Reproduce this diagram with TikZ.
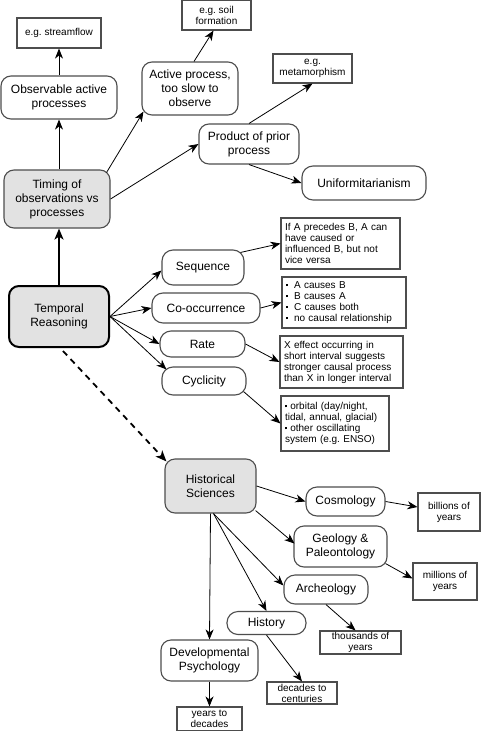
\documentclass[tikz,border=0pt]{standalone}
\usepackage{fontspec}
\setmainfont{Liberation Sans}
\usetikzlibrary{arrows.meta,calc}
\definecolor{bc}{HTML}{4D4D4D}
\definecolor{hubfill}{HTML}{E2E2E2}
\newcommand{\sqb}{\raisebox{2.2pt}{\rule{2pt}{2pt}}}
\frenchspacing
\begin{document}
\begin{tikzpicture}[x=1pt,y=-1pt,
  box/.style={draw=bc, line width=1.1pt, rounded corners=10pt, align=center, inner sep=0pt, font=\fontsize{12}{14}\selectfont, fill=white},
  pill/.style={box, rounded corners=11pt},
  hub/.style={box, fill=hubfill},
  note/.style={draw=bc, line width=1.1pt, align=center, inner sep=0pt, font=\fontsize{10}{11}\selectfont, fill=white},
  lnote/.style={note, align=left, inner xsep=4pt, inner ysep=0pt},
  conn/.style={-{Stealth[length=10pt,width=8pt,inset=3pt]}, line width=0.8pt},
]
\useasboundingbox (0,0) rectangle (480,731);
\fill[white] (0,0) rectangle (480,731);

% upper part
\node[note, minimum width=84pt, minimum height=30pt] (stream) at (59,33) {e.g. streamflow};
\node[box, minimum width=116pt, minimum height=43pt] (observable) at (59,97.5) {Observable active\\processes};
\node[note, minimum width=69pt, minimum height=30pt] (soil) at (216.5,15) {e.g. soil\\formation};
\node[box, minimum width=96pt, minimum height=53pt] (active) at (190,88.5) {Active process,\\too slow to\\observe};
\node[box, minimum width=100pt, minimum height=40pt] (product) at (249,144) {Product of prior\\process};
\node[note, minimum width=79pt, minimum height=29pt] (metamorph) at (312.5,68.5) {e.g.\\metamorphism};
\node[pill, minimum width=124pt, minimum height=34pt] (uniform) at (364,183) {Uniformitarianism};
\node[hub, minimum width=106pt, minimum height=58pt] (timing) at (57,199) {Timing of\\observations vs\\processes};
\node[hub, draw=black, line width=2pt, minimum width=100pt, minimum height=61pt] (temporal) at (59,316.5) {Temporal\\Reasoning};

% middle part
\node[pill, minimum width=82pt, minimum height=35pt] (sequence) at (203,267.5) {Sequence};
\node[pill, minimum width=108pt, minimum height=30pt] (cooc) at (206,308) {Co-occurrence};
\node[pill, minimum width=85pt, minimum height=26pt] (rate) at (202.5,344) {Rate};
\node[pill, minimum width=84pt, minimum height=28pt] (cyclicity) at (204,381) {Cyclicity};

\node[lnote, text width=111pt, minimum height=51pt] (seqnote) at (340.5,243.5) {If A precedes B, A can\\have caused or\\influenced B, but not\\vice versa};
\node[lnote, text width=116pt, minimum height=51pt] (coocnote) at (344,302.5) {\sqb\hspace{6pt}A causes B\\\sqb\hspace{6pt}B causes A\\\sqb\hspace{6pt}C causes both\\\sqb\hspace{6pt}no causal relationship};
\node[lnote, text width=115pt, minimum height=52pt] (ratenote) at (341.5,362) {X effect occurring in\\short interval suggests\\stronger causal process\\than X in longer interval};
\node[lnote, text width=100pt, minimum height=55pt] (cyclnote) at (335,423.5) {\sqb\ orbital (day/night,\\tidal, annual, glacial)\\\sqb\ other oscillating\\system (e.g. ENSO)};

% lower part
\node[hub, minimum width=91pt, minimum height=54pt] (historical) at (210.5,486) {Historical\\Sciences};
\node[pill, minimum width=79pt, minimum height=29pt] (cosmology) at (345.5,501.5) {Cosmology};
\node[note, minimum width=62pt, minimum height=38pt] (billions) at (449,512) {billions of\\years};
\node[box, minimum width=93pt, minimum height=41pt] (geology) at (340.5,546.5) {Geology \&\\Paleontology};
\node[note, minimum width=64pt, minimum height=37pt] (millions) at (445,581.5) {millions of\\years};
\node[pill, minimum width=84pt, minimum height=29pt] (archeology) at (326,589.5) {Archeology};
\node[note, minimum width=81pt, minimum height=23pt] (thousands) at (360.5,642.5) {thousands of\\years};
\node[pill, minimum width=79pt, minimum height=23pt] (history) at (266.5,623) {History};
\node[note, minimum width=70pt, minimum height=22pt] (decades) at (302,693) {decades to\\centuries};
\node[box, minimum width=97pt, minimum height=41pt] (devpsych) at (209.5,660.5) {Developmental\\Psychology};
\node[note, minimum width=65pt, minimum height=24pt] (years) at (209.5,719) {years to\\decades};

% connectors: upper
\draw[conn] (observable.north) -- (stream.south);
\draw[conn] (timing.north -| observable) -- (observable.south);
\draw[conn] ($(timing.north east)+(-4,3)$) -- ($(active.south west)+(2,-4)$);
\draw[conn] (timing.east) -- (product.west);
\draw[conn] ($(active.north)+(4,0)$) -- ($(soil.south)+(-3,0)$);
\draw[conn] (product.north) -- (metamorph.south);
\draw[conn] (product.south) -- (uniform.west);
\draw[-{Stealth[length=11pt,width=9pt,inset=3pt]}, line width=2.2pt] (temporal.north) -- (temporal.north |- timing.south);

% connectors: middle
\draw[conn] (temporal.east) -- ($(sequence.west)+(0,3)$);
\draw[conn] (temporal.east) -- (cooc.west);
\draw[conn] (temporal.east) -- (rate.west);
\draw[conn] (temporal.east) -- ($(cyclicity.north west)+(5,3)$);
\draw[conn] ($(sequence.north east)+(-4,3)$) -- (seqnote.west);
\draw[conn] (cooc.east) -- (coocnote.west);
\draw[conn] (rate.east) -- (ratenote.west);
\draw[conn] ($(cyclicity.south east)+(-3,-4)$) -- (cyclnote.west);

% connectors: lower
\draw[-{Stealth[length=11pt,width=9pt,inset=3pt]}, line width=1.8pt, dash pattern=on 6pt off 5pt] ($(temporal.south)+(4,3)$) -- ($(historical.north west)+(2,3)$);
\draw[conn] (historical.east) -- (cosmology.west);
\draw[conn] ($(historical.south east)+(-1,-3)$) -- ($(geology.west)+(1,-3)$);
\draw[conn] ($(historical.south)+(3,0)$) -- ($(archeology.west)+(0,-4)$);
\draw[conn] ($(historical.south)+(3,0)$) -- (history.north);
\draw[conn] (historical.south) -- (devpsych.north);
\draw[conn] (cosmology.east) -- ($(billions.west)+(0,-5)$);
\draw[conn] ($(geology.south east)+(-2,-4)$) -- ($(millions.west)+(0,-3)$);
\draw[conn] (archeology.south) -- ($(thousands.north)+(-5,0)$);
\draw[conn] (history.south) -- (decades.north);
\draw[conn] (devpsych.south) -- (years.north);
\end{tikzpicture}
\end{document}
